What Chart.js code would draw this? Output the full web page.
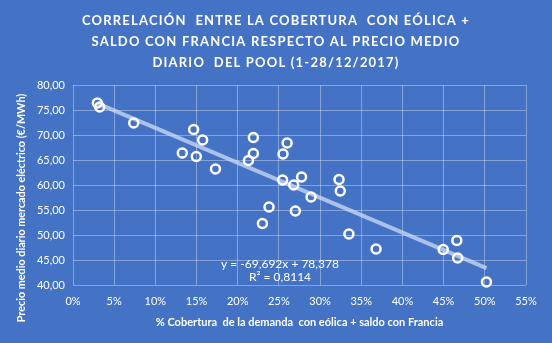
<!DOCTYPE html>
<html>
<head>
<meta charset="utf-8">
<script src="https://cdn.jsdelivr.net/npm/chart.js@4.4.0/dist/chart.umd.min.js"></script>
<style>
  body { margin: 0; background: #4472C4; }
  canvas { display: block; }
</style>
</head>
<body>
<canvas id="grafico" width="552" height="343"></canvas>
<script>
// % cobertura con eólica + saldo con Francia (fracción) y precio medio diario del pool (€/MWh)
const cobertura = [0.0296, 0.0324, 0.0737, 0.1465, 0.1574, 0.1327, 0.1497, 0.173, 0.219, 0.219,
	0.213, 0.230, 0.238, 0.260, 0.255, 0.2545, 0.268, 0.270, 0.2775, 0.289,
	0.323, 0.3245, 0.335, 0.368, 0.4495, 0.466, 0.467, 0.502];
const precio = [76.4, 75.6, 72.4, 71.1, 69.0, 66.4, 65.7, 63.2, 69.5, 66.3,
	64.9, 52.3, 55.6, 68.4, 66.2, 61.0, 60.0, 54.8, 61.6, 57.6,
	61.1, 58.8, 50.2, 47.2, 47.1, 48.9, 45.4, 40.6];

// recta de tendencia lineal
const pendiente = -69.692;
const ordenada = 78.378;
const r2 = 0.8114;

const titulo = [
	'CORRELACIÓN  ENTRE LA COBERTURA  CON EÓLICA +',
	'SALDO CON FRANCIA RESPECTO AL PRECIO MEDIO',
	'DIARIO  DEL POOL (1-28/12/2017)'
];
const tituloX = '% Cobertura  de la demanda  con eólica + saldo con Francia';
const tituloY = 'Precio medio diario mercado eléctrico (€/MWh)';

const blanco = '#FFFFFF';
const rejilla = 'rgba(255, 255, 255, 0.35)';
const fuente = 'Lato, "Open Sans", sans-serif';

function coma(n, dec) {
	return n.toFixed(dec).replace('.', ',');
}

const puntos = cobertura.map((c, i) => ({ x: c, y: precio[i] }));
const xMin = Math.min(...cobertura);
const xMax = Math.max(...cobertura);
const tendencia = [
	{ x: xMin, y: pendiente * xMin + ordenada },
	{ x: xMax, y: pendiente * xMax + ordenada }
];

// título espaciado, título del eje Y y ecuación de la tendencia
const textos = {
	id: 'textos',
	afterDraw(chart) {
		const ctx = chart.ctx;
		const area = chart.chartArea;

		ctx.save();
		ctx.fillStyle = blanco;
		ctx.font = 'bold 13px ' + fuente;
		ctx.letterSpacing = '1.2px';
		ctx.textAlign = 'center';
		ctx.textBaseline = 'middle';
		titulo.forEach((linea, i) => ctx.fillText(linea, 276, 21 + i * 21));
		ctx.restore();

		ctx.save();
		ctx.fillStyle = blanco;
		ctx.font = 'bold 10.8px ' + fuente;
		ctx.textAlign = 'center';
		ctx.textBaseline = 'middle';
		ctx.translate(22, 208);
		ctx.rotate(-Math.PI / 2);
		ctx.fillText(tituloY, 0, 0);
		ctx.restore();

		ctx.save();
		ctx.fillStyle = blanco;
		ctx.font = '12px ' + fuente;
		ctx.textAlign = 'center';
		ctx.textBaseline = 'middle';
		const xc = area.left + 207;
		ctx.fillText('y = ' + coma(pendiente, 3) + 'x + ' + coma(ordenada, 3), xc, area.bottom - 21);
		ctx.fillText('R² = ' + coma(r2, 4), xc, area.bottom - 8);
		ctx.restore();
	}
};

const ctx = document.getElementById('grafico').getContext('2d');
new Chart(ctx, {
	type: 'scatter',
	data: {
		datasets: [{
			label: 'Tendencia',
			data: tendencia,
			type: 'line',
			borderColor: 'rgba(205, 220, 245, 0.75)',
			borderWidth: 4,
			pointRadius: 0,
			fill: false,
			order: 2
		}, {
			label: 'Precio',
			data: puntos,
			backgroundColor: 'rgba(0, 0, 0, 0)',
			borderColor: blanco,
			borderWidth: 2.5,
			pointRadius: 4.5,
			order: 1
		}]
	},
	options: {
		responsive: false,
		devicePixelRatio: 1,
		animation: false,
		clip: false,
		layout: { padding: { left: 14, right: 26, top: 5, bottom: 14 } },
		plugins: {
			legend: { display: false },
			tooltip: { enabled: false },
			// reserva el hueco del título; el texto se pinta con espaciado en el plugin
			title: {
				display: true,
				text: titulo,
				color: 'rgba(0, 0, 0, 0)',
				font: { family: fuente, size: 13, weight: 'bold', lineHeight: 1.6 },
				padding: { top: 6, bottom: 11.6 }
			}
		},
		scales: {
			x: {
				type: 'linear',
				min: 0,
				max: 0.55,
				grid: { color: rejilla, drawTicks: false },
				border: { display: false },
				ticks: {
					stepSize: 0.05,
					color: blanco,
					padding: 10,
					font: { family: fuente, size: 11 },
					callback: v => Math.round(v * 100) + '%'
				},
				title: {
					display: true,
					text: tituloX,
					color: blanco,
					font: { family: fuente, size: 11, weight: 'bold' },
					padding: { top: 1, bottom: 0 }
				},
				afterFit: s => { s.height = 44; }
			},
			y: {
				min: 40,
				max: 80,
				grid: { color: rejilla, drawTicks: false },
				border: { display: false },
				ticks: {
					stepSize: 5,
					color: blanco,
					padding: 8,
					font: { family: fuente, size: 11 },
					callback: v => coma(v, 2)
				},
				afterFit: s => { s.width = 59; }
			}
		}
	},
	plugins: [textos]
});
</script>
</body>
</html>
